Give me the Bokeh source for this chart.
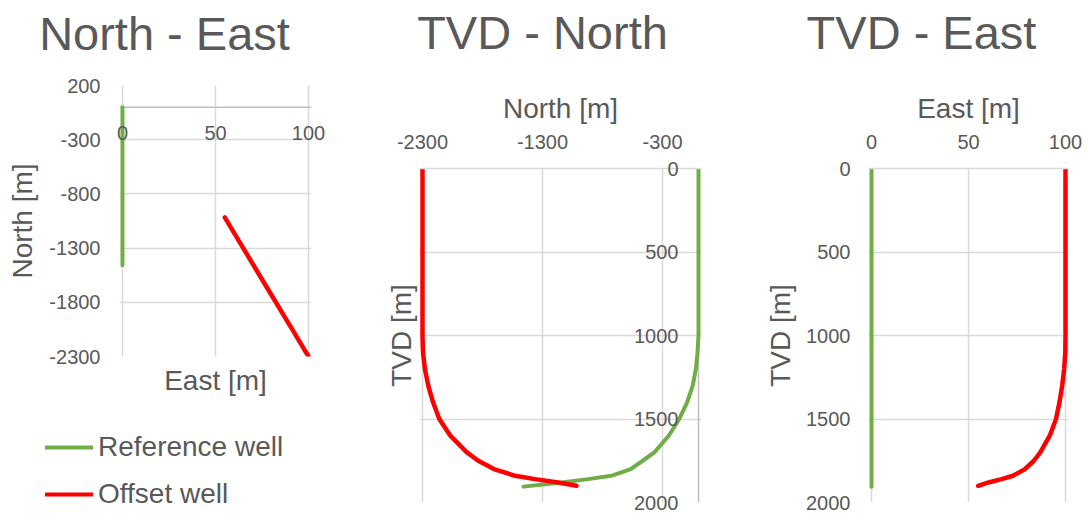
from bokeh.plotting import figure
from bokeh.models import Range1d, FixedTicker, LinearAxis, Legend, LegendItem, Span, Grid
from bokeh.layouts import row, column
from bokeh.core.properties import value
from bokeh.embed import file_html
from bokeh.resources import INLINE

# ---------------- data ----------------
ref_tvd = [0, 500, 1000, 1100, 1200, 1300, 1400, 1500, 1600, 1700, 1750, 1800, 1840, 1860, 1880, 1905]
ref_north = [0, 0, 0, -8, -22, -48, -95, -160, -248, -368, -465, -565, -727, -920, -1141, -1459]
ref_east = [0, 0, 0, 0, 0, 0, 0, 0, 0, 0, 0, 0, 0, 0, 0, 0]

off_tvd = [0, 500, 1000, 1100, 1200, 1300, 1400, 1500, 1600, 1700, 1750, 1800, 1840, 1860, 1880, 1900]
off_north = [-2300, -2300, -2300, -2296, -2280, -2252, -2212, -2160, -2068, -1930, -1835, -1705, -1528, -1362, -1169, -1017]
off_east = [100, 100, 100, 99.9, 99.3, 98.3, 96.9, 95.1, 91.9, 87.0, 83.7, 79.1, 72.9, 67.1, 60.3, 55.0]

series_names = ["Reference well", "Offset well"]
panel_titles = ["North - East", "TVD - North", "TVD - East"]

east_ticks = [0, 50, 100]
north_ticks_ne = [200, -300, -800, -1300, -1800, -2300]
north_ticks = [-2300, -1300, -300]
tvd_ticks = [0, 500, 1000, 1500, 2000]

# horizontal placement of each plot frame and of the panel titles (page pixels)
frame_px = [(119, 311), (419, 701), (868, 1068)]
title_center = [164, 542, 921]

# ---------------- style ----------------
FONT = "Liberation Sans"
TXT = "#595959"
GRID = "#d9d9d9"
AXIS = "#bfbfbf"
GREEN = "#70ad47"
RED = "#ff0000"


def base_fig(**kw):
    p = figure(output_backend="svg", toolbar_location=None, title=None, **kw)
    p.outline_line_color = None
    p.background_fill_color = "white"
    p.border_fill_color = "white"
    p.grid.visible = False
    return p


def add_grid(p, dim, ticks):
    p.add_layout(Grid(dimension=dim, ticker=FixedTicker(ticks=ticks),
                      grid_line_color=GRID, grid_line_width=1.5), "center")


def style_axis(ax, ticks, standoff, label=None, label_standoff=8, line_color=GRID):
    ax.ticker = FixedTicker(ticks=ticks)
    ax.major_label_overrides = {t: str(t) for t in ticks}
    ax.major_label_text_font = FONT
    ax.major_label_text_font_size = "20px"
    ax.major_label_text_color = TXT
    ax.major_tick_line_color = None
    ax.minor_tick_line_color = None
    ax.major_tick_out = 0
    ax.major_tick_in = 0
    ax.major_label_standoff = standoff
    ax.axis_line_color = line_color
    ax.axis_line_width = 1.5
    if label is not None:
        ax.axis_label = label
        ax.axis_label_standoff = label_standoff
        ax.axis_label_text_font = FONT
        ax.axis_label_text_font_size = "28px"
        ax.axis_label_text_font_style = "normal"
        ax.axis_label_text_color = TXT


def label_axis(text, standoff):
    return LinearAxis(ticker=FixedTicker(ticks=[]), axis_label=text,
                      axis_label_standoff=standoff, axis_label_text_font=FONT,
                      axis_label_text_font_size="28px", axis_label_text_color=TXT,
                      axis_label_text_font_style="normal", axis_line_color=None,
                      major_tick_line_color=None, minor_tick_line_color=None,
                      major_tick_out=0, major_tick_in=0, major_label_standoff=0)


def add_title(p, i, standoff):
    lo, hi = frame_px[i]
    p.extra_x_ranges = {"title": Range1d(lo, hi)}
    c = title_center[i]
    ax = LinearAxis(x_range_name="title", ticker=FixedTicker(ticks=[c]),
                    major_label_overrides={c: panel_titles[i]},
                    major_label_text_font=FONT, major_label_text_font_size="47px",
                    major_label_text_color=TXT, major_label_standoff=standoff,
                    axis_line_color=None, major_tick_line_color=None,
                    minor_tick_line_color=None, major_tick_out=0, major_tick_in=0)
    p.add_layout(ax, "above")


# ---------------- panel 1: North - East ----------------
p1 = base_fig(width=340, height=405, x_range=Range1d(-1.6, 101.6), y_range=Range1d(-2300, 200),
              x_axis_location=None,
              min_border_left=119, min_border_right=29, min_border_top=85, min_border_bottom=49)
style_axis(p1.yaxis[0], north_ticks_ne, 19, label="North [m]", label_standoff=8, line_color=None)
p1.add_layout(label_axis("East [m]", 8), "below")
east_axis1 = LinearAxis()
style_axis(east_axis1, east_ticks, -273, line_color=None)
p1.add_layout(east_axis1, "below")
add_title(p1, 0, 26)
add_grid(p1, 0, east_ticks)
add_grid(p1, 1, north_ticks_ne)
p1.add_layout(Span(location=0, dimension="width", line_color=AXIS, line_width=1.5, level="underlay"))
p1.line(ref_east, ref_north, line_color=GREEN, line_width=4, line_cap="round")
p1.line(off_east, off_north, line_color=RED, line_width=4.5, line_cap="round")

# ---------------- legend (below panel 1) ----------------
# the wells are drawn again outside this strip's ranges only to give the legend its glyphs
leg = base_fig(width=340, height=105, x_range=Range1d(1000, 2000), y_range=Range1d(1000, 2000),
               min_border=0, x_axis_location=None, y_axis_location=None)
g_ref = leg.line(ref_east, ref_north, line_color=GREEN, line_width=4, line_cap="round")
g_off = leg.line(off_east, off_north, line_color=RED, line_width=4, line_cap="round")
legend = Legend(items=[LegendItem(label=value(series_names[0]), renderers=[g_ref]),
                       LegendItem(label=value(series_names[1]), renderers=[g_off])],
                location=(45, 0), padding=0, margin=0, border_line_color=None,
                background_fill_alpha=0, glyph_width=48, glyph_height=20, label_height=20,
                label_standoff=5, spacing=15, label_text_font=FONT,
                label_text_font_size="28px", label_text_color=TXT)
leg.add_layout(legend)

# ---------------- panel 2: TVD - North ----------------
p2 = base_fig(width=380, height=510, x_range=Range1d(-2325, 25), y_range=Range1d(2000, 0),
              x_axis_location="above", y_axis_location=None,
              min_border_left=79, min_border_right=19, min_border_top=168, min_border_bottom=8)
style_axis(p2.xaxis[0], north_ticks, 20, label="North [m]", label_standoff=8)
add_title(p2, 1, 31)
p2.add_layout(label_axis("TVD [m]", 3), "left")
tvd_axis2 = LinearAxis()
style_axis(tvd_axis2, tvd_ticks, -296, line_color=None)
p2.add_layout(tvd_axis2, "left")
add_grid(p2, 0, north_ticks)
add_grid(p2, 1, tvd_ticks)
p2.add_layout(Span(location=0, dimension="height", line_color=AXIS, line_width=1.5, level="underlay"))
p2.line(ref_north, ref_tvd, line_color=GREEN, line_width=4, line_cap="round")
p2.line(off_north, off_tvd, line_color=RED, line_width=4.5, line_cap="round")

# ---------------- panel 3: TVD - East ----------------
p3 = base_fig(width=365, height=510, x_range=Range1d(-1.55, 101.55), y_range=Range1d(2000, 0),
              x_axis_location="above",
              min_border_left=148, min_border_right=17, min_border_top=168, min_border_bottom=8)
style_axis(p3.xaxis[0], east_ticks, 20, label="East [m]", label_standoff=8)
style_axis(p3.yaxis[0], tvd_ticks, 18, label="TVD [m]", label_standoff=7, line_color=None)
add_title(p3, 2, 31)
add_grid(p3, 0, east_ticks)
add_grid(p3, 1, tvd_ticks)
p3.line(ref_east, ref_tvd, line_color=GREEN, line_width=4, line_cap="round")
p3.line(off_east, off_tvd, line_color=RED, line_width=4.5, line_cap="round")

layout = row(column(p1, row(leg), spacing=0), p2, p3, spacing=0)

open("out.html", "w").write(file_html(layout, INLINE))
